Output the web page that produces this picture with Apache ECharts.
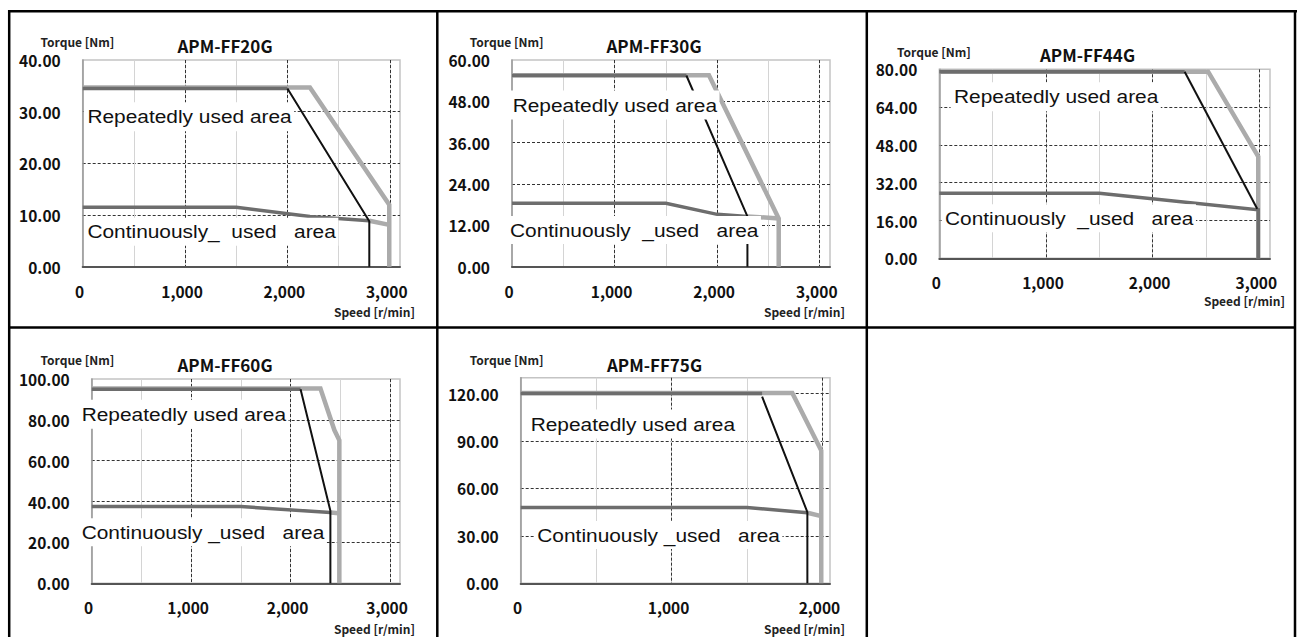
<!DOCTYPE html>
<html>
<head>
<meta charset="utf-8">
<script src="https://cdn.jsdelivr.net/npm/echarts@6/dist/echarts.min.js"></script>
<style>
html,body{margin:0;padding:0;background:#fff;}
#c{width:1300px;height:637px;}
</style>
</head>
<body>
<div id="c"></div>
<script>
// ---------- DATA ----------
const modelNames = ['APM-FF20G', 'APM-FF30G', 'APM-FF44G', 'APM-FF60G', 'APM-FF75G'];
const yMaxValues = [40, 60, 80, 100, 130];
const yIntervals = [10, 12, 16, 20, 30];
const xMaxValues = [3100, 3100, 3100, 3100, 2050];
const xLabelInterval = 1000;
const xMinorInterval = 500;
const yAxisTitle = 'Torque [Nm]';
const xAxisTitle = 'Speed [r/min]';
const repeatedLabel = 'Repeatedly used area';
const continuousLabels = ['Continuously_  used   area', 'Continuously  _used   area', 'Continuously  _used   area', 'Continuously _used   area', 'Continuously _used   area'];

// APM-FF20G  [speed r/min, torque Nm]
const ff20RepeatLight = [[0, 34.7], [2220, 34.7], [2995, 12], [2995, 0]];
const ff20RepeatFlat  = [[0, 34.5], [2000, 34.5]];
const ff20RepeatBlack = [[2000, 34.5], [2800, 8.8], [2800, 0]];
const ff20ContDark    = [[0, 11.5], [1500, 11.5], [2220, 9.7], [2800, 8.9]];
const ff20ContLight   = [[2800, 8.9], [2995, 8.1]];

// APM-FF30G
const ff30RepeatLight = [[0, 55.6], [1920, 55.6], [2600, 14], [2600, 0]];
const ff30RepeatFlat  = [[0, 55.5], [1700, 55.5]];
const ff30RepeatBlack = [[1700, 55.5], [2295, 14.6], [2295, 0]];
const ff30ContDark    = [[0, 18.4], [1500, 18.4], [2000, 15.2], [2295, 14.6]];
const ff30ContLight   = [[2295, 14.6], [2600, 14]];

// APM-FF44G
const ff44RepeatLight = [[0, 79], [2520, 79], [2990, 43], [2990, 0]];
const ff44RepeatFlat  = [[0, 79], [2300, 79]];
const ff44RepeatBlack = [[2300, 79], [2980, 21]];
const ff44ContDark    = [[0, 27.5], [1500, 27.5], [2990, 20.5], [2990, 0]];
const ff44ContLight   = [];

// APM-FF60G
const ff60RepeatLight = [[0, 95.3], [2300, 95.3], [2440, 75], [2490, 70], [2490, 0]];
const ff60RepeatFlat  = [[0, 95], [2100, 95]];
const ff60RepeatBlack = [[2100, 95], [2400, 35.5], [2400, 0]];
const ff60ContDark    = [[0, 37.6], [1500, 37.6], [2400, 34.6]];
const ff60ContLight   = [[2400, 34.6], [2485, 34.3]];

// APM-FF75G
const ff75RepeatLight = [[0, 120.3], [1800, 120.3], [1992, 84], [1992, 0]];
const ff75RepeatFlat  = [[0, 120], [1600, 120]];
const ff75RepeatBlack = [[1600, 118], [1900, 45], [1900, 0]];
const ff75ContDark    = [[0, 48], [1500, 48], [1900, 44.6]];
const ff75ContLight   = [[1900, 44.6], [1992, 42.5]];

const repeatLightSets = [ff20RepeatLight, ff30RepeatLight, ff44RepeatLight, ff60RepeatLight, ff75RepeatLight];
const repeatFlatSets  = [ff20RepeatFlat, ff30RepeatFlat, ff44RepeatFlat, ff60RepeatFlat, ff75RepeatFlat];
const repeatBlackSets = [ff20RepeatBlack, ff30RepeatBlack, ff44RepeatBlack, ff60RepeatBlack, ff75RepeatBlack];
const contDarkSets    = [ff20ContDark, ff30ContDark, ff44ContDark, ff60ContDark, ff75ContDark];
const contLightSets   = [ff20ContLight, ff30ContLight, ff44ContLight, ff60ContLight, ff75ContLight];

// ---------- LAYOUT ----------
const gridBoxes = [
  {left: 82.7, top: 60, width: 317.3, height: 206.7},
  {left: 512, top: 60, width: 318, height: 206.7},
  {left: 939.3, top: 69.3, width: 330.7, height: 189},
  {left: 91.7, top: 379, width: 308.3, height: 204.3},
  {left: 520.7, top: 377.7, width: 309.3, height: 205.6}
];
const titlePos  = [[225, 45], [654, 45], [1087.5, 54.5], [225, 364], [654.5, 364]];
const torquePos = [[77.5, 41], [506.7, 41], [934, 51.5], [77.5, 359], [506.7, 359]];
const speedPos  = [[415, 311], [845, 311], [1285, 300.5], [415, 628.5], [845, 628.5]];
const repLabelPos  = [[84, 116.7], [509.3, 105], [950.6, 96.7], [78.3, 414.3], [527.3, 424]];
const contLabelPos = [[84, 231.7], [506.6, 230], [941.6, 218.3], [78.3, 532.3], [533.9, 535]];

const LIGHT = '#ababab', DARK = '#6d6d6d', BLACK = '#111111';
const KR = 'Noto Sans CJK KR';
const tickFont = {fontFamily: KR, fontWeight: 'bold', fontSize: 15.5, color: '#111', lineHeight: 14};

const grids = [], xAxes = [], yAxes = [], series = [], graphics = [];

function addLine(i, data, color, width) {
  if (!data.length) return;
  series.push({
    type: 'line', xAxisIndex: 2 * i + 1, yAxisIndex: i, data: data,
    symbol: 'none', showSymbol: false, silent: true,
    lineStyle: {color: color, width: width, cap: 'butt', join: 'miter'}
  });
}

function addText(x, y, text, opts) {
  graphics.push(Object.assign({
    type: 'text', x: x, y: y, z: 100, silent: true,
    style: Object.assign({text: text, x: 0, y: 0, fill: '#111', fontFamily: KR}, opts.style || {})
  }, opts.el || {}));
}

for (let i = 0; i < 5; i++) {
  const g = gridBoxes[i];
  grids.push({left: g.left, top: g.top, width: g.width, height: g.height, show: true,
    borderColor: '#c4c4c4', borderWidth: 1.5, backgroundColor: 'transparent',
    containLabel: false, outerBoundsMode: 'none'});
  xAxes.push({type: 'value', gridIndex: i, min: 0, max: xMaxValues[i], interval: xMinorInterval,
    position: 'bottom', axisLine: {show: false}, axisTick: {show: false}, axisLabel: {show: false},
    splitLine: {show: true, showMinLine: false, showMaxLine: false, lineStyle: {color: '#d4d4d4', width: 1, type: 'solid'}}});
  xAxes.push({type: 'value', gridIndex: i, min: 0, max: xMaxValues[i], interval: xLabelInterval,
    position: 'bottom',
    axisLine: {show: true, onZero: false, lineStyle: {color: '#555', width: 2}},
    axisTick: {show: false},
    axisLabel: Object.assign({margin: 17, padding: [0, 6, 0, 0], hideOverlap: false,
      formatter: v => (v % xLabelInterval === 0 ? v.toLocaleString('en-US') : '')}, tickFont),
    splitLine: {show: true, showMinLine: false, showMaxLine: false, lineStyle: {color: '#333', width: 1, type: [3, 2]}}});
  yAxes.push({type: 'value', gridIndex: i, min: 0, max: yMaxValues[i], interval: yIntervals[i],
    axisLine: {show: true, onZero: false, lineStyle: {color: '#9a9a9a', width: 1.5}},
    axisTick: {show: false},
    axisLabel: Object.assign({margin: 22, hideOverlap: false,
      formatter: v => (v % yIntervals[i] === 0 ? v.toFixed(2) : '')}, tickFont),
    splitLine: {show: true, showMinLine: false, showMaxLine: false, lineStyle: {color: '#333', width: 1, type: [3, 2]}}});

  addLine(i, repeatLightSets[i], LIGHT, 4.5);
  addLine(i, contLightSets[i], LIGHT, 4.5);
  addLine(i, contDarkSets[i], DARK, 3.5);
  addLine(i, repeatFlatSets[i], DARK, 3.5);
  addLine(i, repeatBlackSets[i], BLACK, 2);

  addText(titlePos[i][0], titlePos[i][1], modelNames[i],
    {style: {fontWeight: 'bold', fontSize: 17, align: 'center', verticalAlign: 'middle'}});
  addText(torquePos[i][0], torquePos[i][1], yAxisTitle,
    {style: {fontWeight: 'bold', fontSize: 12, align: 'center', verticalAlign: 'middle', fill: '#222'}});
  addText(speedPos[i][0], speedPos[i][1], xAxisTitle,
    {style: {fontWeight: 'bold', fontSize: 12, lineHeight: 12, align: 'right', verticalAlign: 'middle', fill: '#222'}});
  addText(repLabelPos[i][0], repLabelPos[i][1], repeatedLabel,
    {el: {scaleX: 1.13}, style: {fontFamily: 'Liberation Sans', fontSize: 18.5, align: 'left', verticalAlign: 'middle',
      backgroundColor: '#fff', padding: [1, 2, 9, 3]}});
  addText(contLabelPos[i][0], contLabelPos[i][1], continuousLabels[i],
    {el: {scaleX: 1.13}, style: {fontFamily: 'Liberation Sans', fontSize: 18.5, align: 'left', verticalAlign: 'middle',
      backgroundColor: '#fff', padding: [3, 2, 6, 3]}});
}

// table frame
const frameLines = [
  [8, 11.2, 1297, 11.2], [8, 327.5, 1296, 327.5],
  [9.2, 10, 9.2, 637], [437.3, 10, 437.3, 637], [866.8, 10, 866.8, 637], [1295, 10, 1295, 637]
];
frameLines.forEach(l => graphics.push({type: 'line', z: 101, silent: true,
  shape: {x1: l[0], y1: l[1], x2: l[2], y2: l[3]}, style: {stroke: '#000', lineWidth: 2.5}}));

const chart = echarts.init(document.getElementById('c'), null, {renderer: 'svg'});
chart.setOption({
  animation: false,
  backgroundColor: '#fff',
  grid: grids,
  xAxis: xAxes,
  yAxis: yAxes,
  series: series,
  graphic: {elements: graphics}
});
</script>
</body>
</html>
